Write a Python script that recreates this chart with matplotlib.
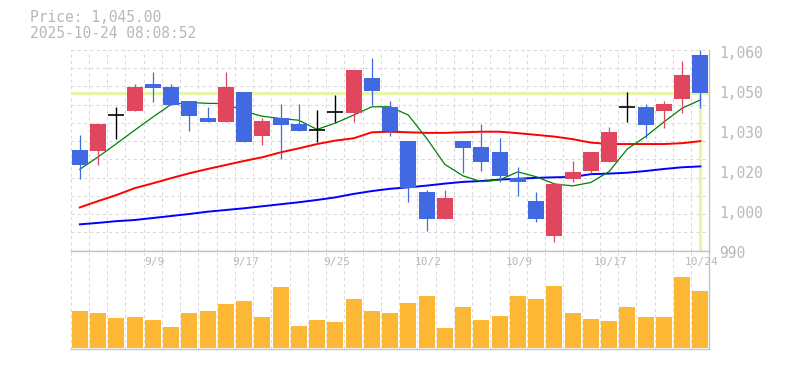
import matplotlib
matplotlib.use("Agg")
import matplotlib.pyplot as plt
from matplotlib.transforms import offset_copy
import numpy as np

# ---------------- data ----------------
dates = ["9/3", "9/4", "9/5", "9/8", "9/9", "9/10", "9/11", "9/12", "9/16", "9/17",
         "9/18", "9/19", "9/22", "9/24", "9/25", "9/26", "9/29", "9/30", "10/1", "10/2",
         "10/3", "10/6", "10/7", "10/8", "10/9", "10/10", "10/14", "10/15", "10/16", "10/17",
         "10/20", "10/21", "10/22", "10/23", "10/24"]

opens = [1025.1, 1024.8, 1037.2, 1038.8, 1048.0, 1047.1, 1042.2, 1036.3, 1035.0, 1045.4,
         1030.1, 1036.3, 1034.2, 1032.0, 1038.3, 1038.1, 1050.2, 1040.1, 1028.3, 1010.5,
         1001.2, 1028.3, 1026.2, 1024.4, 1015.4, 1007.3, 995.1, 1015.1, 1017.9, 1021.0,
         1040.0, 1040.1, 1038.8, 1043.0, 1058.3]
highs = [1030.4, 1034.2, 1040.1, 1048.0, 1052.3, 1048.0, 1042.2, 1040.1, 1052.3, 1045.4,
         1036.3, 1041.2, 1041.2, 1039.1, 1044.3, 1053.0, 1057.2, 1042.2, 1028.3, 1011.2,
         1011.2, 1028.3, 1034.2, 1029.3, 1019.2, 1010.5, 1013.3, 1021.3, 1024.4, 1033.1,
         1045.4, 1041.1, 1042.2, 1056.2, 1060.0]
lows = [1015.1, 1020.0, 1029.0, 1038.8, 1042.0, 1040.9, 1031.9, 1035.0, 1035.0, 1028.0,
        1027.0, 1022.1, 1031.9, 1028.0, 1035.0, 1035.0, 1040.8, 1030.1, 1007.1, 997.0,
        1001.2, 1017.2, 1017.9, 1014.1, 1009.2, 1000.1, 993.1, 1014.1, 1017.2, 1021.0,
        1035.0, 1029.3, 1032.9, 1038.0, 1039.9]
closes = [1020.0, 1034.2, 1037.2, 1047.1, 1046.9, 1040.9, 1037.1, 1035.0, 1047.1, 1028.0,
          1035.2, 1033.9, 1031.9, 1032.0, 1038.3, 1053.0, 1045.8, 1031.9, 1012.0, 1001.2,
          1008.4, 1025.9, 1021.0, 1016.2, 1014.1, 1001.2, 1013.3, 1017.4, 1024.4, 1031.4,
          1040.0, 1033.9, 1041.2, 1051.3, 1045.0]

ma5 = [1018.4, 1022.7, 1027.3, 1032.0, 1036.6, 1041.0, 1041.7, 1041.4, 1041.3, 1038.6,
       1036.9, 1036.1, 1035.5, 1032.3, 1034.5, 1037.3, 1040.2, 1040.2, 1037.3, 1029.2,
       1020.1, 1016.1, 1014.1, 1014.7, 1017.5, 1015.8, 1013.3, 1012.6, 1013.8, 1017.6,
       1025.5, 1029.8, 1034.9, 1039.7, 1042.6]
ma25 = [1005.1, 1007.3, 1009.4, 1011.8, 1013.5, 1015.3, 1017.0, 1018.5, 1019.9, 1021.3,
        1022.6, 1024.3, 1025.7, 1027.2, 1028.4, 1029.2, 1031.3, 1031.5, 1031.3, 1031.1,
        1031.1, 1031.3, 1031.5, 1031.5, 1031.0, 1030.4, 1029.8, 1028.9, 1027.7, 1027.2,
        1027.2, 1027.2, 1027.2, 1027.5, 1028.2]
ma75 = [999.2, 999.7, 1000.3, 1000.7, 1001.4, 1002.1, 1002.8, 1003.6, 1004.2, 1004.8,
        1005.5, 1006.2, 1006.9, 1007.7, 1008.6, 1009.8, 1010.8, 1011.6, 1012.1, 1012.7,
        1013.4, 1014.0, 1014.3, 1014.8, 1015.1, 1015.4, 1015.6, 1015.7, 1016.7, 1016.9,
        1017.2, 1017.8, 1018.5, 1019.1, 1019.4]

volumes = [110000, 104000, 89000, 92000, 83000, 62000, 104000, 110000, 131000, 140000,
           92000, 182000, 65000, 83000, 77000, 146000, 110000, 104000, 134000, 155000,
           59000, 122000, 83000, 95000, 155000, 146000, 185000, 104000, 86000, 80000,
           122000, 92000, 92000, 212000, 170000]

ytick_values = [1060, 1046, 1032, 1018, 1004, 990]
ytick_labels = ["1,060", "1,050", "1,030", "1,020", "1,000", "990"]
timestamp = "2025-10-24 08:08:52"

# ---------------- style ----------------
UP = "#e1465f"
DOWN = "#4169e1"
VOL = "#fcb734"
GRID = "#d9d9d9"
SPINE = "#c4c4c4"
TXT = "#b8b8b8"
CUR = "#e6f5aa"
MONO = "DejaVu Sans Mono"

W, H = 785, 370
fig = plt.figure(figsize=(W / 100, H / 100), dpi=100)
L, R = 70.7, 709.5
ax = fig.add_axes([L / W, (H - 250.7) / H, (R - L) / W, 200.7 / H])
axv = fig.add_axes([L / W, (H - 349.3) / H, (R - L) / W, 98.6 / H], sharex=ax)

x = np.arange(len(dates))
o = np.array(opens); c = np.array(closes); hi = np.array(highs); lo = np.array(lows)

ax.set_xlim(-0.5, len(dates) - 0.5)
ax.set_ylim(990, 1060)
axv.set_ylim(-4800, 291000)

for a in (ax, axv):
    a.set_xticks(np.arange(-0.5, len(dates) - 0.5, 1))
    a.tick_params(length=0, labelbottom=False, labelleft=False)
    a.grid(axis="x", color=GRID, linestyle=(0, (3, 3)), linewidth=0.75)
    a.set_axisbelow(True)
    a.spines["left"].set_visible(False)
    for s in ("right", "bottom", "top"):
        a.spines[s].set_color(SPINE)
        a.spines[s].set_linewidth(1.0)
ax.spines["top"].set_visible(False)
ax.set_yticks(np.linspace(990, 1060, 12))
ax.grid(axis="y", color=GRID, linestyle=(0, (3, 3)), linewidth=0.75)
axv.set_yticks([])

# current price lines
last = closes[-1]
ax.axhline(last, color=CUR, lw=2.3, zorder=1)
ax.vlines(x[-1], 990, last, color=CUR, lw=2.3, zorder=1)

# moving averages
ax.plot(x, ma75, color="#0000ff", lw=1.4, zorder=2)
ax.plot(x, ma25, color="#ff0000", lw=1.4, zorder=2)
ax.plot(x, ma5, color="#008000", lw=0.9, zorder=2)

# candles
bw = 0.88
up = c > o
dn = c < o
dj = c == o
ax.vlines(x[up], lo[up], hi[up], color=UP, lw=0.9, zorder=3)
ax.bar(x[up], (c - o)[up], bottom=o[up], width=bw, color=UP, zorder=4)
ax.vlines(x[dn], lo[dn], hi[dn], color=DOWN, lw=0.9, zorder=3)
ax.bar(x[dn], (o - c)[dn], bottom=c[dn], width=bw, color=DOWN, zorder=4)
ax.vlines(x[dj], lo[dj], hi[dj], color="black", lw=1.0, zorder=4)
ax.hlines(c[dj], x[dj] - bw / 2, x[dj] + bw / 2, color="black", lw=1.2, zorder=4)

# volume
axv.bar(x, volumes, width=bw, color=VOL, zorder=2)

# right-hand price labels
tr = offset_copy(ax.get_yaxis_transform(), fig=fig, x=10, y=-3, units="dots")
for v, lab in zip(ytick_values, ytick_labels):
    ax.text(1, v, lab, transform=tr, ha="left", va="center",
            family=MONO, fontsize=10.5, color=TXT)

# date labels
trx = offset_copy(axv.get_xaxis_transform(), fig=fig, x=1.5, y=-11, units="dots")
for i, d in enumerate(dates):
    if i % 5 == 4:
        axv.text(i, 1, d, transform=trx, ha="center", va="center",
                 family=MONO, fontsize=8, color=TXT, zorder=5)

# header
fig.text(30 / W, 1 - 17 / H, f"Price: {last:,.2f}", ha="left", va="center",
         family=MONO, fontsize=10.5, color=TXT)
fig.text(30 / W, 1 - 33 / H, timestamp, ha="left", va="center",
         family=MONO, fontsize=10.5, color=TXT)

fig.savefig("out.png", dpi=100)
